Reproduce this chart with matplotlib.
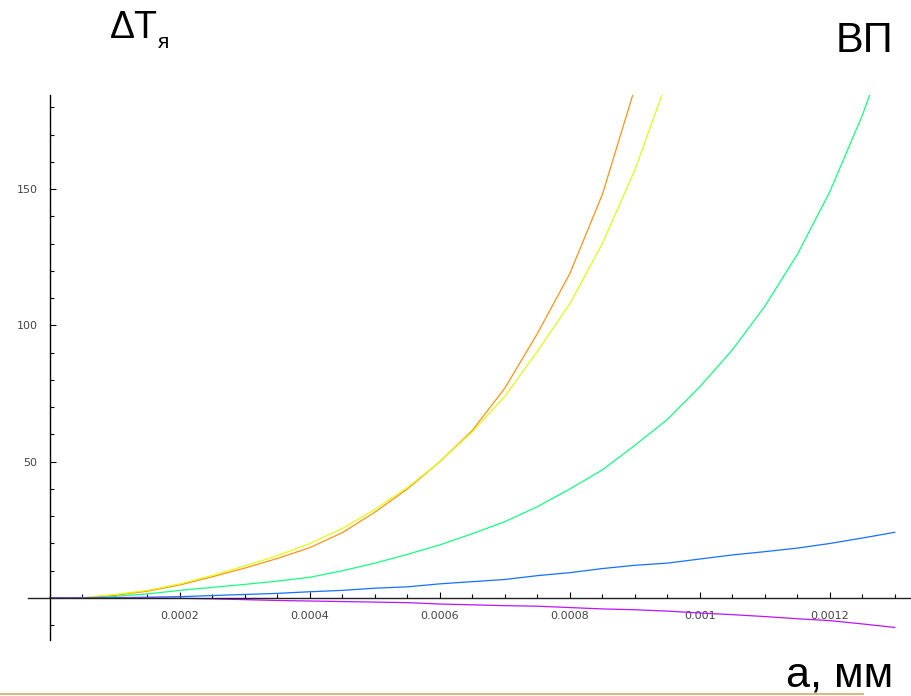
import numpy as np
import matplotlib
matplotlib.use("Agg")
import matplotlib.pyplot as plt
from matplotlib.ticker import FixedLocator, MultipleLocator, NullFormatter
from matplotlib.lines import Line2D
import colorsys

# grid step of the curves (a, mm)
a = [0, 0.00005, 0.0001, 0.00015, 0.0002, 0.00025, 0.0003, 0.00035, 0.0004,
     0.00045, 0.0005, 0.00055, 0.0006, 0.00065, 0.0007, 0.00075, 0.0008,
     0.00085, 0.0009, 0.00095, 0.001, 0.00105, 0.0011, 0.00115, 0.0012,
     0.00125, 0.0013]

# dT values (orange and yellow run off the top)
orange = [0, 0, 1.0, 2.5, 4.8, 7.8, 11.0, 14.5, 18.5, 24.0, 31.5, 40.0, 50.0,
          61.5, 77.0, 97.0, 119.0, 148.0, 187.0, 235.0]
yellow = [0, 0.2, 1.3, 2.8, 5.2, 8.3, 11.8, 15.5, 20.0, 25.5, 32.5, 40.5, 50.0,
          61.0, 74.0, 90.5, 108.0, 130.0, 157.0, 190.0, 230.0]
green = [0, 0, 0.6, 1.5, 2.8, 3.9, 5.0, 6.2, 7.6, 10.0, 12.8, 16.0, 19.5, 23.6,
         28.0, 33.5, 40.0, 47.0, 56.0, 65.5, 77.5, 91.0, 107.0, 126.0, 149.0,
         177.0, 210.0]
blue = [0, 0, 0.1, 0.3, 0.5, 0.9, 1.3, 1.7, 2.3, 2.8, 3.6, 4.1, 5.2, 6.0, 6.8,
        8.2, 9.3, 10.8, 12.0, 12.8, 14.3, 15.8, 17.0, 18.3, 20.0, 22.0, 24.1]
magenta = [0, 0, 0, 0, -0.1, -0.3, -0.6, -0.9, -1.1, -1.3, -1.5, -1.7, -2.2,
           -2.5, -2.8, -3.0, -3.5, -4.0, -4.3, -4.8, -5.5, -6.1, -6.8, -7.6,
           -8.3, -9.5, -10.8]

xticks = [0.0002, 0.0004, 0.0006, 0.0008, 0.001, 0.0012]
xtick_labels = ["0.0002", "0.0004", "0.0006", "0.0008", "0.001", "0.0012"]
yticks = [50, 100, 150]

series = [(orange, 0.09), (yellow, 0.19), (green, 0.41), (blue, 0.6), (magenta, 0.785)]

W, H = 912, 696
fig = plt.figure(figsize=(W / 100, H / 100), dpi=100)
ax = fig.add_axes([28 / W, 1 - 640 / H, (911 - 28) / W, (640 - 95) / H])

for vals, hue in series:
    col = colorsys.hsv_to_rgb(hue, 0.92, 1.0)
    ax.plot(a[:len(vals)], vals, color=col, lw=0.9)

ax.set_xlim(-0.0000338, 0.001325)
ax.set_ylim(-15.4, 184.5)

for s in ["top", "right"]:
    ax.spines[s].set_visible(False)
ax.spines["left"].set_position(("data", 0))
ax.spines["bottom"].set_position(("data", 0))
ax.spines["left"].set_linewidth(1.0)
ax.spines["bottom"].set_linewidth(1.0)
ax.spines["bottom"].set_color("#222222")

ax.xaxis.set_major_locator(FixedLocator(xticks))
ax.set_xticklabels(xtick_labels)
ax.xaxis.set_minor_locator(MultipleLocator(0.00005))
ax.yaxis.set_major_locator(FixedLocator(yticks))
ax.yaxis.set_minor_locator(MultipleLocator(10))
ax.yaxis.set_minor_formatter(NullFormatter())

ax.tick_params(axis="both", which="major", direction="in", length=4.5, width=0.8,
               labelsize=8, labelcolor="#444444", pad=9)
ax.tick_params(axis="both", which="minor", direction="in", length=3.2, width=0.8)

# axis captions, placed in pixels of the figure
def ftext(x, y, s, **kw):
    fig.text(x / W, 1 - y / H, s, va="baseline", family="Liberation Sans", **kw)

ftext(110, 38, "ΔT", fontsize=27)
ftext(158, 48, "я", fontsize=15)
ftext(893, 52, "ВП", fontsize=30, ha="right")
ftext(893, 686, "a, мм", fontsize=31, ha="right")

fig.add_artist(Line2D([0, 863 / W], [1 - 694 / H, 1 - 694 / H], color="#d8bb80", lw=1.5))

fig.savefig("out.png", dpi=100)
